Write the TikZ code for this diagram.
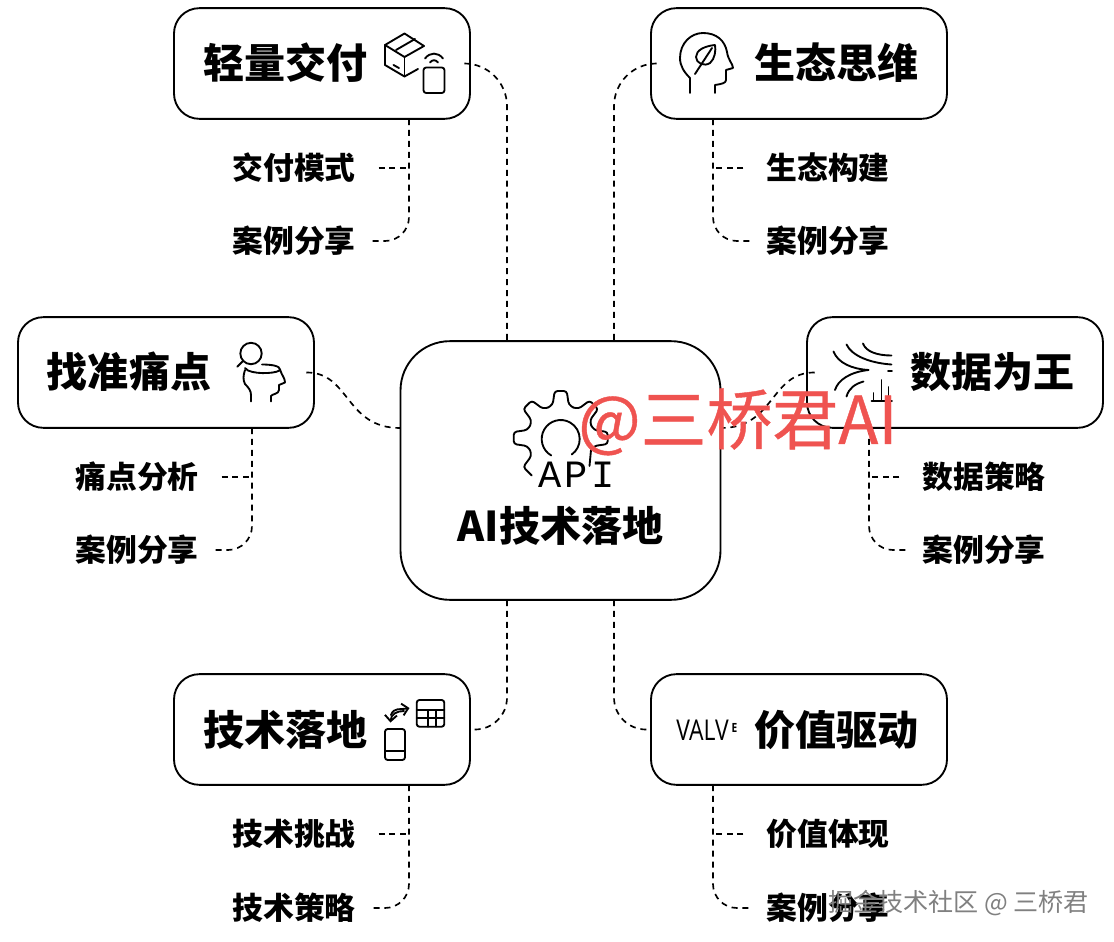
\documentclass[tikz,border=0pt]{standalone}
\usepackage{fontspec}
\usepackage{xcolor}
\usepackage{tikz}
\usetikzlibrary{arrows.meta,positioning,calc}
\newfontfamily\cjk{Noto Sans CJK SC}
\newfontfamily\markfont[FakeBold=0.6]{Noto Sans CJK SC}
\newfontfamily\apifont[LetterSpace=9]{Liberation Mono}
\newfontfamily\valvefont[FakeStretch=0.8]{Open Sans}
\definecolor{markred}{HTML}{EF5350}
\tikzset{
  cardbox/.style={draw, line width=1.4pt, rounded corners=19pt, minimum width=222pt, minimum height=83pt, inner sep=0pt},
  hubbox/.style={draw, line width=1.4pt, rounded corners=37pt, minimum width=240pt, minimum height=194pt, inner sep=0pt},
  title/.style={font=\cjk\bfseries\fontsize{30.8}{36}\selectfont, inner sep=0pt},
  sublabel/.style={font=\cjk\bfseries\fontsize{23.1}{27}\selectfont, inner sep=0pt},
  link/.style={line width=1.25pt, dash pattern=on 4.5pt off 3.7pt},
  icon/.style={line width=1.4pt, line cap=round, line join=round},
}
\begin{document}
\begin{tikzpicture}[x=0.75pt, y=-0.75pt, >=Stealth]
  \useasboundingbox (0,0) rectangle (1114,942);

  % Hub and cards
  \node[hubbox] (hub) at (560.5,470.5) {};
  \node[cardbox] (cardA) at (322,63.5) {};
  \node[cardbox] (cardB) at (799,63.5) {};
  \node[cardbox] (cardC) at (166,372.5) {};
  \node[cardbox] (cardD) at (955,372.5) {};
  \node[cardbox] (cardE) at (322,729.5) {};
  \node[cardbox] (cardF) at (799,729.5) {};

  % Titles
  \node[title] (hubTitle) at (560.5,526) {AI技术落地};
  \node[title] (titleA) at (285.5,63) {轻量交付};
  \node[title] (titleB) at (836.5,63) {生态思维};
  \node[title] (titleC) at (129,372) {找准痛点};
  \node[title] (titleD) at (992.5,372) {数据为王};
  \node[title] (titleE) at (285.5,730) {技术落地};
  \node[title] (titleF) at (836.5,730) {价值驱动};

  % Sub labels
  \node[sublabel] (subA1) at (294,168) {交付模式};
  \node[sublabel] (subA2) at (294,241) {案例分享};
  \node[sublabel] (subB1) at (828,168) {生态构建};
  \node[sublabel] (subB2) at (828,241) {案例分享};
  \node[sublabel] (subC1) at (137,477) {痛点分析};
  \node[sublabel] (subC2) at (137,550) {案例分享};
  \node[sublabel] (subD1) at (984,477) {数据策略};
  \node[sublabel] (subD2) at (984,550) {案例分享};
  \node[sublabel] (subE1) at (294,834) {技术挑战};
  \node[sublabel] (subE2) at (294,908) {技术策略};
  \node[sublabel] (subF1) at (828,834) {价值体现};
  \node[sublabel] (subF2) at (828,908) {案例分享};

  % Trunks under the cards
  \coordinate (trunkA) at (409,119);
  \coordinate (trunkB) at (713,119);
  \coordinate (trunkC) at (252,428);
  \coordinate (trunkD) at (869,428);
  \coordinate (trunkE) at (409,785);
  \coordinate (trunkF) at (713,785);

  \foreach \k in {A,C,E} {
    \draw[link, rounded corners=18pt, shorten >=10pt] (trunk\k) |- (sub\k2.east);
    \draw[link, shorten <=17pt] (sub\k1.east) -- (trunk\k |- sub\k1);
  }
  \foreach \k in {B,D,F} {
    \draw[link, rounded corners=18pt, shorten >=10pt] (trunk\k) |- (sub\k2.west);
    \draw[link, shorten <=17pt] (sub\k1.west) -- (trunk\k |- sub\k1);
  }

  % Links from the hub to the cards
  \coordinate (hubNW) at (507,341);
  \coordinate (hubNE) at (614,341);
  \coordinate (hubSW) at (507,600);
  \coordinate (hubSE) at (614,600);
  \coordinate (hubW) at (400,428);
  \coordinate (hubE) at (721,428);

  \draw[link, rounded corners=32pt] ([xshift=-4.5pt]cardA.east) -| (hubNW);
  \draw[link, rounded corners=32pt] ([xshift=4.5pt]cardB.west) -| (hubNE);
  \draw[link, rounded corners=24pt] (hubSW) |- (cardE.east);
  \draw[link, rounded corners=24pt] (hubSE) |- (cardF.west);
  \draw[link] ([xshift=-6.5pt]cardC.east) .. controls (350,372) and (345,428) .. (hubW);
  \draw[link] ([xshift=6.5pt]cardD.west) .. controls (770,372) and (775,428) .. (hubE);

  % Icon: parcel and device
  \begin{scope}[icon]
    \draw (404.5,33.5) -- (424,46) -- (404.5,57) -- (385,45) -- cycle;
    \draw (385,45) -- (385,65) -- (404.5,76.5) -- (418,69);
    \draw (404.5,57) -- (404.5,76.5);
    \draw (396,50) -- (415,39);
    \draw (393.5,65) -- (399,68);
    \draw[rounded corners=2pt] (423.5,67.5) rectangle (444.5,93);
    \draw (425,58.5) .. controls (430,52) and (438,52) .. (443,58.5);
    \draw (430,62.5) .. controls (432,59.5) and (436,59.5) .. (438,62.5);
  \end{scope}

  % Icon: head with leaf
  \begin{scope}[icon]
    \draw (690,93) -- (690,78) .. controls (684,72) and (680,66) .. (680,58)
      .. controls (680,43) and (691,33) .. (703,33)
      .. controls (717,33) and (725,41) .. (727,52)
      .. controls (728,60) and (733,64) .. (733,68)
      -- (726,70) -- (726,80) .. controls (726,83) and (722,84) .. (715,85) -- (715,93);
    \draw (715,45) .. controls (705,46) and (696,50) .. (696,57)
      .. controls (696,63) and (704,67) .. (710,63)
      .. controls (715,59) and (716,50) .. (715,45);
    \draw (712,48) -- (695,74);
  \end{scope}

  % Icon: magnifier over head
  \begin{scope}[icon]
    \draw (251,353.5) circle (10.7);
    \draw (243,361) -- (237.3,366.7);
    \draw (262,364.5) .. controls (272,364.5) and (280,366) .. (280,369.5)
      .. controls (280,373) and (258,375) .. (248,370.5) -- (245,368);
    \draw (245,370) .. controls (243,376) and (243,380) .. (245,384)
      .. controls (249,388) and (251,391) .. (251,395) -- (251,401.5);
    \draw (280,369.5) .. controls (282,376) and (285,378) .. (285,382.5)
      -- (279,385) -- (279,390) .. controls (279,394) and (272,394) .. (271,396) -- (271,401.5);
  \end{scope}

  % Icon: data streams
  \begin{scope}[icon]
    \draw (863,343.5) .. controls (866,352) and (878,355.5) .. (891.5,355.5);
    \draw (846.5,344.5) .. controls (852,356) and (870,363) .. (891.5,364.5);
    \draw (833.5,351.5) .. controls (838,363) and (852,369) .. (868.5,370);
    \draw (835,390) .. controls (838,380) and (850,372) .. (868.5,370);
    \draw (846.5,396.5) .. controls (849,388) and (855,384) .. (863.5,381.5);
    \draw (888,371) -- (892,371);
    \draw (881.5,380) -- (881.5,401);
    \draw (888.5,387) -- (888.5,401);
    \draw (873.5,393) -- (873.5,401);
    \draw (871.5,401) -- (892,401);
  \end{scope}

  % Icon: gear with API
  \begin{scope}[icon, rounded corners=2.2pt]
    \foreach \a in {0,45,90,135,180} {
      \draw[shift={(560.7,438)}, rotate=\a]
        (30.5,-12.6) -- (33.5,-8) -- (47,-6) -- (47,6) -- (33.5,8) -- (30.5,12.6);
    }
    \draw[shift={(560.7,438)}, rotate=225]
      (30.5,12.6) -- (33.5,8) -- (47,6) -- (47,-6);
    \draw (591,450) -- (589.5,466);
    \draw[rounded corners=0pt] (560.7,439) ++(120:19) arc (120:414:19);
  \end{scope}
  \node[font=\apifont\fontsize{29}{32}\selectfont, inner sep=0pt] (apiText) at (576.5,475) {API};

  % Icon: phone and table
  \begin{scope}[icon]
    \draw[rounded corners=2pt] (385,729) rectangle (405,760);
    \draw (385,751) -- (405,751);
    \draw[rounded corners=2pt] (416.7,700) rectangle (444.3,726.7);
    \draw (416.7,710) -- (444.3,710);
    \draw (416.7,718.3) -- (444.3,718.3);
    \draw (428.3,710) -- (428.3,726.7);
    \draw (435.7,710) -- (435.7,726.7);
    \draw[-{Straight Barb[length=4.5pt,width=9pt]}] (391,715) .. controls (394,707) and (400,710) .. (409.5,708);
    \draw[-{Straight Barb[length=4.5pt,width=9pt]}] (404,711) .. controls (397,711) and (391,714) .. (390.5,722.5);
  \end{scope}

  % Icon: valve wordmark
  \node[font=\valvefont\fontsize{21.5}{24}\selectfont, inner sep=0pt] (valveText) at (702.5,730) {VALV};
  \node[font=\valvefont\bfseries\fontsize{9.5}{10}\selectfont, inner sep=0pt] (valveMark) at (734.5,728) {E};

  % Watermarks
  \node[font=\markfont\fontsize{49.4}{54}\selectfont, text=markred, inner sep=0pt] (markRed) at (738,422) {@三桥君AI};
  \node[font=\cjk\fontsize{18.8}{22}\selectfont, text=black!50, inner sep=0pt] (markGray) at (958.5,903) {掘金技术社区 @ 三桥君};
\end{tikzpicture}
\end{document}
